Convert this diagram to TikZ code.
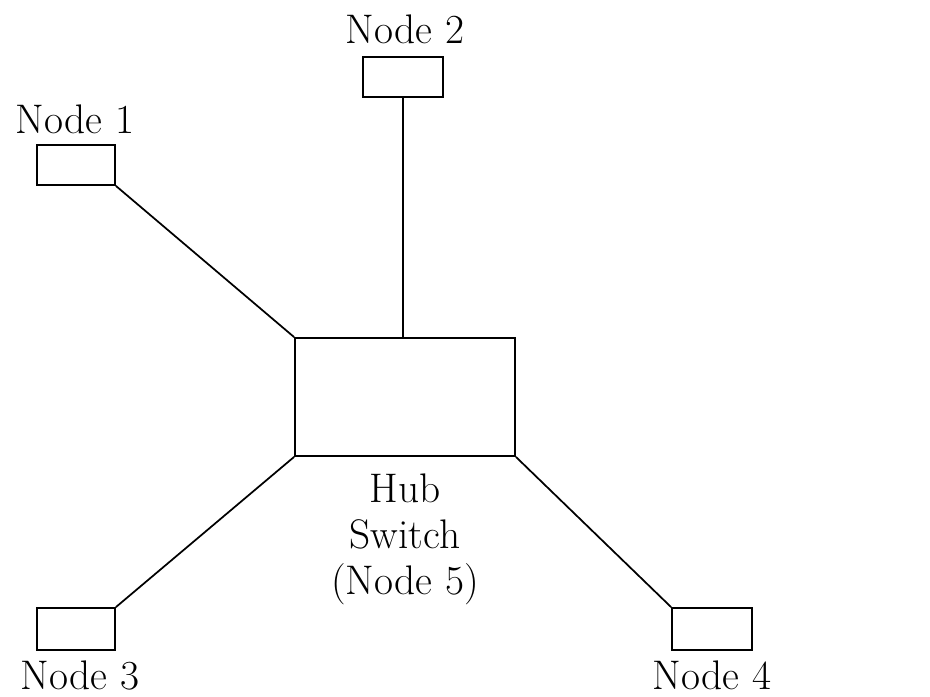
\documentclass[tikz,border=0pt]{standalone}
\usepackage{fontspec}
\begin{document}
\begin{tikzpicture}[x=0.75pt,y=-0.75pt,
  box/.style={draw,line width=1.3pt,inner sep=0pt,minimum width=#1*0.75pt},
  lab/.style={anchor=base,inner sep=0pt,font=\fontsize{31}{35}\selectfont},
  link/.style={line width=1.3pt}]
\useasboundingbox (0,0) rectangle (930,696);
\node[box=78,minimum height=30pt] (n1) at (76,165) {};
\node[box=80,minimum height=30pt] (n2) at (403,77) {};
\node[box=78,minimum height=31.5pt] (n3) at (76,629) {};
\node[box=80,minimum height=31.5pt] (n4) at (712,629) {};
\node[box=220,minimum height=88.5pt] (hub) at (405,397) {};
\node[lab] (l1) at (75,133) {Node 1};
\node[lab] (l2) at (405,43) {Node 2};
\node[lab] (l3) at (80,689) {Node 3};
\node[lab] (l4) at (712,689) {Node 4};
\node[anchor=north,inner sep=0pt,align=center,font=\fontsize{31}{34.5}\selectfont] (l5) at (405,474) {Hub\\Switch\\(Node 5)};
\draw[link] (n1.south east) -- (hub.north west);
\draw[link] (n2.south) -- (n2.south |- hub.north);
\draw[link] (n3.north east) -- (hub.south west);
\draw[link] (n4.north west) -- (hub.south east);
\end{tikzpicture}
\end{document}
